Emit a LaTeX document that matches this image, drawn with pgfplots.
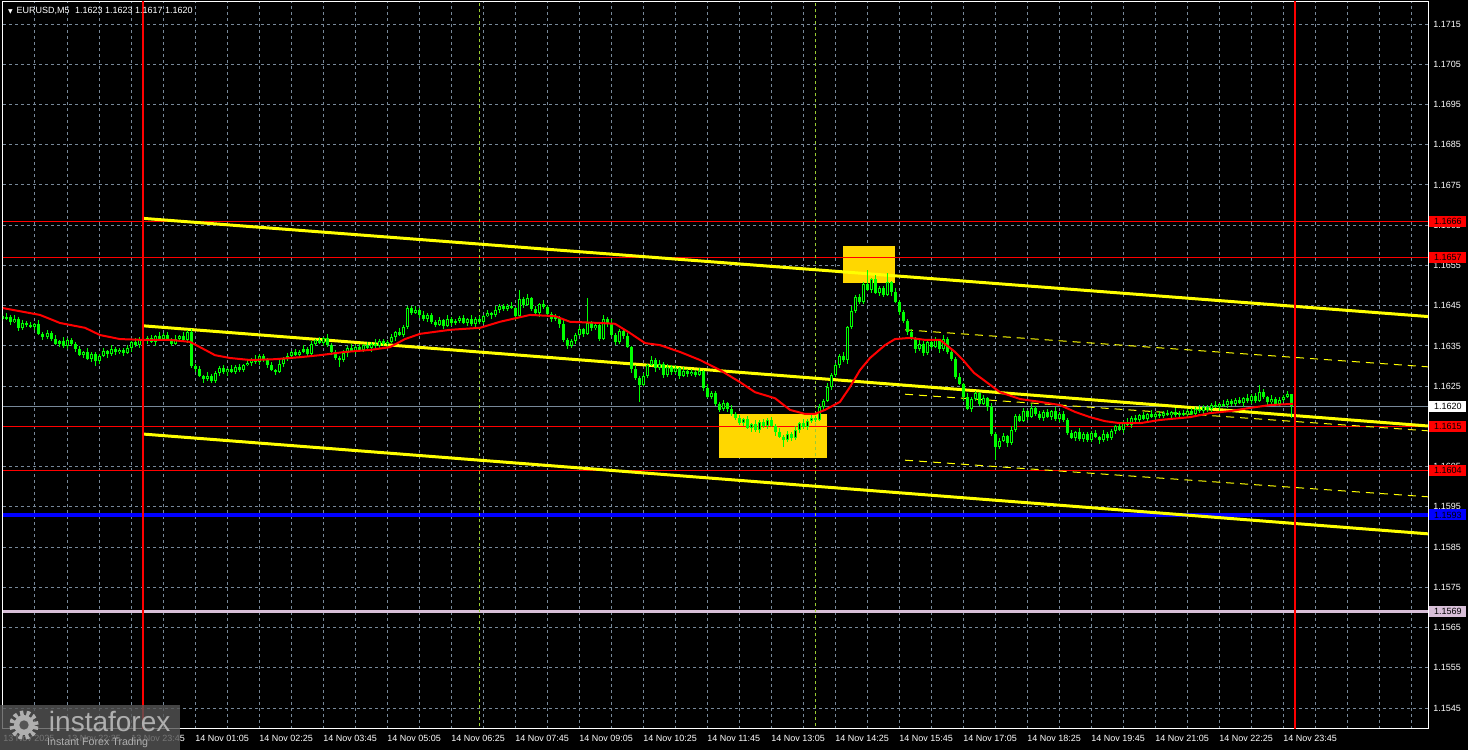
\documentclass[border=0pt]{standalone}
\usepackage{fontspec}
\setmainfont{Liberation Sans}
\newfontfamily\symfont{DejaVu Sans}
\usepackage{pgfplots}
\usepackage{pgfplotstable}
\pgfplotsset{compat=1.18}
\definecolor{mtgrid}{RGB}{119,136,153}
\definecolor{mtgreen}{RGB}{0,255,0}
\definecolor{boxgold}{RGB}{255,215,0}
\definecolor{chanyellow}{RGB}{255,255,0}
\definecolor{thistle}{RGB}{216,191,216}
\definecolor{sepgreen}{RGB}{154,205,50}
\definecolor{wmgray}{RGB}{85,85,85}
\definecolor{wmtext}{RGB}{175,175,175}

% EURUSD M5 candles; i = bar number from 14 Nov 00:00, prices in pips above 1.1500
\pgfplotstableread{
i o h l c
-35 142.5 142.9 141.2 141.8
-34 141.8 143.1 141.5 142.3
-33 142.3 142.6 140.1 141.0
-32 141.0 142.6 140.6 141.6
-31 141.6 142.1 138.8 139.5
-30 139.5 141.4 139.0 140.8
-29 140.8 141.2 139.6 140.2
-28 140.2 141.0 139.5 139.8
-27 139.8 140.8 138.9 140.5
-26 140.5 141.5 137.6 138.0
-25 138.0 138.5 136.5 137.2
-24 137.2 138.9 136.7 138.3
-23 138.3 138.7 136.2 136.8
-22 136.8 137.6 135.3 135.6
-21 135.6 136.5 134.7 136.2
-20 136.2 137.2 134.6 135.0
-19 135.0 136.9 134.3 136.4
-18 136.4 137.0 135.0 135.5
-17 135.5 135.9 133.6 134.2
-16 134.2 135.0 132.5 132.8
-15 132.8 133.8 131.9 133.5
-14 133.5 134.5 131.4 131.8
-13 131.8 133.4 131.1 132.9
-12 132.9 133.5 130.0 131.2
-11 131.2 132.9 130.6 132.5
-10 132.5 134.6 132.2 133.8
-9 133.8 134.1 132.1 133.0
-8 133.0 135.2 132.6 134.2
-7 134.2 134.7 132.7 133.4
-6 133.4 134.6 132.9 134.0
-5 134.0 134.4 132.6 133.2
-4 133.2 135.3 132.9 134.5
-3 134.5 136.3 133.6 136.0
-2 136.0 137.0 134.8 135.2
-1 135.2 137.3 134.5 136.8
0 136.8 137.4 135.7 136.2
1 136.2 137.4 135.6 137.0
2 137.0 137.8 135.7 136.0
3 136.0 137.8 135.1 137.5
4 137.5 138.5 136.4 136.8
5 136.8 138.3 136.1 137.8
6 137.8 138.4 136.1 136.6
7 136.6 137.0 134.9 135.5
8 135.5 137.6 135.2 136.8
9 136.8 137.8 135.9 137.5
10 137.5 138.5 136.0 136.4
11 136.4 139.0 135.7 138.5
12 138.5 139.1 129.5 130.0
13 130.0 130.4 128.6 129.2
14 129.2 130.0 127.2 127.5
15 127.5 127.8 125.9 126.8
16 126.8 128.6 126.4 127.6
17 127.6 128.1 125.7 126.4
18 126.4 128.8 125.9 128.2
19 128.2 129.9 127.6 129.5
20 129.5 130.3 128.1 128.4
21 128.4 129.5 127.5 129.2
22 129.2 130.2 128.2 128.6
23 128.6 130.3 127.9 129.8
24 129.8 130.4 128.5 129.0
25 129.0 130.6 128.4 130.2
26 130.2 131.6 129.9 130.8
27 130.8 132.1 129.9 131.8
28 131.8 132.8 130.6 131.0
29 131.0 132.9 130.3 132.4
30 132.4 133.0 131.1 131.6
31 131.6 132.0 129.6 130.2
32 130.2 131.0 128.7 129.0
33 129.0 129.3 127.7 128.6
34 128.6 131.5 128.2 130.5
35 130.5 132.3 129.8 131.8
36 131.8 133.2 131.3 132.6
37 132.6 133.8 132.0 133.4
38 133.4 134.2 132.5 132.8
39 132.8 133.9 131.9 133.6
40 133.6 135.2 133.2 134.2
41 134.2 134.7 132.3 133.0
42 133.0 136.1 132.5 135.5
43 135.5 136.8 134.9 136.4
44 136.4 137.2 135.5 135.8
45 135.8 137.3 134.9 137.0
46 137.0 138.0 134.8 135.2
47 135.2 135.7 132.7 133.4
48 133.4 134.0 131.5 132.0
49 132.0 132.4 129.8 131.4
50 131.4 134.0 131.1 133.2
51 133.2 134.9 132.3 134.6
52 134.6 135.6 133.4 133.8
53 133.8 135.3 133.1 134.8
54 134.8 135.4 133.5 134.0
55 134.0 135.6 133.4 135.2
56 135.2 136.0 134.1 134.4
57 134.4 135.9 133.5 135.6
58 135.6 136.6 134.6 135.0
59 135.0 136.7 134.3 136.2
60 136.2 136.8 134.9 135.4
61 135.4 136.4 134.8 136.0
62 136.0 138.0 135.7 137.2
63 137.2 138.7 136.3 138.4
64 138.4 139.4 137.4 137.8
65 137.8 140.1 137.1 139.6
66 139.6 145.0 139.1 144.4
67 144.4 144.8 142.6 143.2
68 143.2 144.8 142.9 144.0
69 144.0 144.3 141.9 142.8
70 142.8 143.8 141.2 141.6
71 141.6 143.1 140.9 142.6
72 142.6 143.2 140.5 141.0
73 141.0 141.4 139.6 140.2
74 140.2 142.2 139.9 141.4
75 141.4 141.7 139.1 140.0
76 140.0 142.8 139.6 141.8
77 141.8 142.3 139.9 140.6
78 140.6 141.8 140.1 141.2
79 141.2 142.4 140.6 142.0
80 142.0 142.8 140.5 140.8
81 140.8 141.9 139.9 141.6
82 141.6 142.6 140.0 140.4
83 140.4 142.3 139.7 141.8
84 141.8 142.4 140.5 141.0
85 141.0 142.8 140.4 142.4
86 142.4 144.0 142.1 143.2
87 143.2 143.5 141.7 142.6
88 142.6 145.0 142.2 144.0
89 144.0 145.3 143.3 144.8
90 144.8 145.4 143.7 144.2
91 144.2 145.4 143.6 145.0
92 145.0 145.8 144.1 144.4
93 144.4 144.7 141.5 142.4
94 142.4 148.9 142.0 146.6
95 146.6 147.1 144.5 145.2
96 145.2 148.0 144.9 146.8
97 146.8 147.2 143.6 144.2
98 144.2 145.0 142.8 143.2
99 143.2 145.7 142.3 145.4
100 145.4 146.4 144.2 144.6
101 144.6 145.2 142.3 143.0
102 143.0 143.4 141.0 141.6
103 141.6 143.0 141.3 142.2
104 142.2 142.5 139.5 140.4
105 140.4 141.4 136.0 136.4
106 136.4 136.9 134.3 135.0
107 135.0 136.8 134.5 136.2
108 136.2 138.2 135.6 137.8
109 137.8 140.0 137.5 139.2
110 139.2 139.5 137.1 138.0
111 138.0 146.9 137.6 140.6
112 140.6 141.1 138.7 139.4
113 139.4 140.8 138.9 140.2
114 140.2 140.6 136.2 136.8
115 136.8 142.6 136.5 141.8
116 141.8 142.1 139.7 140.6
117 140.6 141.6 137.2 137.6
118 137.6 138.1 135.3 136.0
119 136.0 139.2 135.5 138.6
120 138.6 139.0 136.8 137.4
121 137.4 138.2 134.5 134.8
122 134.8 135.1 128.3 129.2
123 129.2 130.2 126.6 127.0
124 127.0 127.5 121.1 125.4
125 125.4 128.2 125.1 127.6
126 127.6 130.6 127.0 130.2
127 130.2 132.4 129.9 131.6
128 131.6 131.9 128.5 129.4
129 129.4 131.6 129.0 130.6
130 130.6 131.1 127.1 127.8
131 127.8 130.4 127.3 129.8
132 129.8 130.2 127.8 128.4
133 128.4 130.2 128.1 129.4
134 129.4 129.7 126.7 127.6
135 127.6 129.8 127.2 128.8
136 128.8 129.3 127.3 128.0
137 128.0 129.2 127.5 128.6
138 128.6 129.0 127.2 127.8
139 127.8 129.6 127.5 128.8
140 128.8 129.1 123.7 124.6
141 124.6 125.6 122.0 122.4
142 122.4 123.7 121.7 123.2
143 123.2 123.8 120.1 120.6
144 120.6 121.0 118.6 119.2
145 119.2 121.6 118.9 120.8
146 120.8 121.1 118.5 119.4
147 119.4 120.4 117.6 118.0
148 118.0 118.5 116.5 117.2
149 117.2 117.8 115.3 115.8
150 115.8 117.2 115.2 116.8
151 116.8 117.6 114.3 114.6
152 114.6 115.9 113.7 115.6
153 115.6 116.6 113.6 114.0
154 114.0 116.7 113.3 116.2
155 116.2 116.8 114.5 115.0
156 115.0 117.0 114.4 116.6
157 116.6 117.4 114.9 115.2
158 115.2 115.5 112.7 113.6
159 113.6 114.6 112.0 112.4
160 112.4 112.9 110.0 111.6
161 111.6 113.8 111.1 113.2
162 113.2 113.6 111.4 112.0
163 112.0 115.0 111.7 114.2
164 114.2 116.1 113.3 115.8
165 115.8 116.8 114.4 114.8
166 114.8 116.9 114.1 116.4
167 116.4 117.8 115.9 117.2
168 117.2 117.6 116.0 116.6
169 116.6 120.6 116.3 119.8
170 119.8 121.7 118.9 121.4
171 121.4 125.8 121.0 124.8
172 124.8 128.3 124.1 127.8
173 127.8 130.8 127.3 130.2
174 130.2 133.0 129.6 132.6
175 132.6 133.4 131.1 131.4
176 131.4 139.9 130.5 139.6
177 139.6 144.8 139.2 143.8
178 143.8 147.7 143.1 147.2
179 147.2 147.8 145.5 146.0
180 146.0 150.8 145.4 150.4
181 150.4 153.9 148.7 149.0
182 149.0 151.9 148.1 151.6
183 151.6 152.6 147.8 148.2
184 148.2 149.9 147.5 149.4
185 149.4 150.0 147.1 147.6
186 147.6 153.2 147.3 150.8
187 150.8 151.1 147.5 148.4
188 148.4 149.4 145.6 146.0
189 146.0 146.5 142.7 143.4
190 143.4 144.0 140.7 141.2
191 141.2 141.6 137.8 138.4
192 138.4 139.2 136.5 136.8
193 136.8 137.1 133.3 134.2
194 134.2 136.6 133.8 135.6
195 135.6 136.1 132.5 133.2
196 133.2 136.6 132.7 136.0
197 136.0 136.4 134.2 134.8
198 134.8 137.2 134.5 136.4
199 136.4 136.7 133.3 134.2
200 134.2 137.8 133.8 136.8
201 136.8 137.3 132.9 133.6
202 133.6 134.2 131.3 131.8
203 131.8 132.2 126.8 127.4
204 127.4 128.2 125.3 125.6
205 125.6 125.9 121.3 122.2
206 122.2 123.2 119.0 119.4
207 119.4 122.3 118.7 121.8
208 121.8 123.8 121.3 123.2
209 123.2 123.6 120.0 120.6
210 120.6 122.8 120.3 122.0
211 122.0 122.3 118.9 119.8
212 119.8 120.8 112.6 113.0
213 113.0 113.5 106.6 109.8
214 109.8 112.0 109.3 111.4
215 111.4 113.4 111.1 112.6
216 112.6 112.9 109.9 110.8
217 110.8 115.2 110.4 114.2
218 114.2 118.1 113.5 117.6
219 117.6 118.2 116.1 116.4
220 116.4 119.6 116.1 118.8
221 118.8 119.1 116.5 117.4
222 117.4 120.6 117.0 119.6
223 119.6 120.1 117.5 118.2
224 118.2 118.8 116.5 117.0
225 117.0 119.0 116.4 118.6
226 118.6 119.4 117.1 117.4
227 117.4 119.1 116.5 118.8
228 118.8 119.8 116.4 116.8
229 116.8 118.7 116.1 118.2
230 118.2 118.8 116.1 116.6
231 116.6 117.0 112.8 113.4
232 113.4 114.2 111.9 112.2
233 112.2 113.9 111.3 113.6
234 113.6 114.6 111.4 111.8
235 111.8 113.5 111.1 113.0
236 113.0 113.6 111.1 111.6
237 111.6 113.8 111.0 113.4
238 113.4 114.2 112.1 112.4
239 112.4 112.7 110.7 111.6
240 111.6 114.2 111.2 113.2
241 113.2 113.7 111.3 112.0
242 112.0 114.4 111.5 113.8
243 113.8 115.4 113.2 115.0
244 115.0 115.8 113.9 114.2
245 114.2 116.3 113.3 116.0
246 116.0 117.0 115.0 115.4
247 115.4 117.7 114.7 117.2
248 117.2 117.8 116.1 116.6
249 116.6 118.2 116.0 117.8
250 117.8 118.6 116.5 116.8
251 116.8 118.3 115.9 118.0
252 118.0 119.0 117.0 117.4
253 117.4 118.7 116.7 118.2
254 118.2 118.8 117.1 117.6
255 117.6 118.8 117.0 118.4
256 118.4 119.2 117.5 117.8
257 117.8 118.9 116.9 118.6
258 118.6 119.6 117.4 117.8
259 117.8 118.9 117.1 118.4
260 118.4 119.0 117.5 118.0
261 118.0 119.2 117.4 118.8
262 118.8 119.6 117.9 118.2
263 118.2 119.7 117.3 119.4
264 119.4 120.4 118.4 118.8
265 118.8 120.3 118.1 119.8
266 119.8 120.4 118.7 119.2
267 119.2 120.8 118.6 120.4
268 120.4 121.2 119.5 119.8
269 119.8 120.9 118.9 120.6
270 120.6 121.6 119.8 120.2
271 120.2 121.7 119.5 121.2
272 121.2 121.8 120.1 120.6
273 120.6 122.0 120.0 121.6
274 121.6 122.4 120.5 120.8
275 120.8 122.3 119.9 122.0
276 122.0 123.0 120.8 121.2
277 121.2 123.1 120.5 122.6
278 122.6 123.2 120.9 121.4
279 121.4 125.3 121.0 123.6
280 123.6 124.2 121.8 122.2
281 122.2 122.5 120.1 121.0
282 121.0 122.8 120.6 121.8
283 121.8 122.3 120.1 120.6
284 120.6 122.2 120.1 121.6
285 121.6 122.8 121.0 122.4
286 122.4 123.8 122.1 123.0
287 123.0 123.0 117.0 120.0
}\candles

% red moving average
\pgfplotstableread{
i ma
-35 144.4
-25.75 142.7
-20.75 140.7
-14.5 139.5
-10.75 137.7
-5.75 136.7
0 136.5
6.75 136.5
11.75 136.0
14.25 134.7
18 132.7
21.75 132.0
26.75 131.5
33 131.7
39.25 132.2
44.25 132.7
50.5 133.5
56.75 134.0
61.75 134.7
65.5 136.7
69.25 138.0
76.75 139.0
84.25 139.5
89.25 141.0
96.75 142.7
103 142.4
106.75 141.0
114.25 140.7
118 140.5
121.75 138.2
125.5 135.7
129.25 135.2
134.25 133.5
139.25 131.5
144.25 129.0
149.25 126.0
153 123.5
158 122.0
161.75 119.1
165.5 118.1
168 118.1
170.5 119.1
174.25 121.1
176.75 124.8
179.25 129.0
181.75 132.0
185.5 135.2
188 136.7
191.75 137.0
195.5 136.5
199.25 136.5
203 133.5
205 131.5
207.75 128.3
214.25 123.5
219.25 121.8
224.25 121.1
229.25 120.3
233 118.6
236.75 117.3
240.5 116.3
244.25 115.8
249.25 115.8
254.25 116.6
261.75 117.3
266.75 118.3
271.75 118.8
276.75 119.6
281.75 120.3
287.5 120.6
}\maline

\begin{document}
\begin{tikzpicture}
\fill[black] (-2.25pt,-15.75pt) rectangle (1098.75pt,546.75pt);
\begin{axis}[
  at={(0,0)}, anchor=south west,
  scale only axis, width=1068.75pt, height=545.25pt,
  xmin=-35, xmax=321.25, ymin=39.8, ymax=220.47,
  axis line style={white, line width=0.75pt},
  tick style={draw=none},
  xtick={-35,-27,...,317},
  xticklabels={13 Nov 2025,,13 Nov 22:25,,13 Nov 23:45,,14 Nov 01:05,,14 Nov 02:25,,14 Nov 03:45,,14 Nov 05:05,,14 Nov 06:25,,14 Nov 07:45,,14 Nov 09:05,,14 Nov 10:25,,14 Nov 11:45,,14 Nov 13:05,,14 Nov 14:25,,14 Nov 15:45,,14 Nov 17:05,,14 Nov 18:25,,14 Nov 19:45,,14 Nov 21:05,,14 Nov 22:25,,14 Nov 23:45,,,,},
  ytick={45,55,...,215},
  yticklabels={1.1545,1.1555,1.1565,1.1575,1.1585,1.1595,1.1605,1.1615,1.1625,1.1635,1.1645,1.1655,1.1665,1.1675,1.1685,1.1695,1.1705,1.1715},
  yticklabel pos=right,
  grid=major,
  grid style={mtgrid, line width=0.75pt, dash pattern=on 2.25pt off 2.25pt},
  ticklabel style={font=\fontsize{6.75pt}{8pt}\selectfont, text=white, inner sep=0pt},
  xticklabel style={anchor=north west, yshift=-4.2pt},
  yticklabel style={anchor=west, xshift=3.75pt},
]
% signal boxes
\addplot[fill=boxgold, draw=none] coordinates {(144,107.1) (171,107.1) (171,118.1) (144,118.1)} -- cycle;
\addplot[fill=boxgold, draw=none] coordinates {(175,150.6) (188,150.6) (188,159.8) (175,159.8)} -- cycle;
% levels
\addplot[red, line width=0.75pt] coordinates {(-35,166) (321.25,166)};
\addplot[red, line width=0.75pt] coordinates {(-35,157) (321.25,157)};
\addplot[mtgrid, line width=0.75pt] coordinates {(-35,120) (321.25,120)};
\addplot[red, line width=0.75pt] coordinates {(-35,115) (321.25,115)};
\addplot[red, line width=0.75pt] coordinates {(-35,104) (321.25,104)};
\addplot[blue, line width=2.6pt] coordinates {(-35,93) (321.25,93)};
\addplot[thistle, line width=2.25pt] coordinates {(-35,69) (321.25,69)};
% period separators
\addplot[sepgreen, line width=0.75pt, dash pattern=on 2.25pt off 2.25pt] coordinates {(84,30) (84,230)};
\addplot[sepgreen, line width=0.75pt, dash pattern=on 2.25pt off 2.25pt] coordinates {(168,30) (168,230)};
% descending channel
\addplot[chanyellow, line width=2.25pt] coordinates {(0,166.7) (321.25,142.3)};
\addplot[chanyellow, line width=2.25pt] coordinates {(0,140.0) (321.25,115.1)};
\addplot[chanyellow, line width=2.25pt] coordinates {(0,113.1) (321.25,88.3)};
\addplot[chanyellow, line width=0.75pt, dash pattern=on 6pt off 4.5pt] coordinates {(190.5,139.0) (321.25,129.8)};
\addplot[chanyellow, line width=0.75pt, dash pattern=on 6pt off 4.5pt] coordinates {(190.5,123.0) (321.25,113.9)};
\addplot[chanyellow, line width=0.75pt, dash pattern=on 6pt off 4.5pt] coordinates {(190.5,106.6) (321.25,97.5)};
% candles: wicks, bodies, hollow centres of rising bars
\addplot[draw=none, error bars/.cd, y dir=both, y explicit, error mark=none,
  error bar style={draw=mtgreen, line width=0.75pt}]
  table[x=i, y expr={(\thisrow{h}+\thisrow{l})/2}, y error expr={(\thisrow{h}-\thisrow{l})/2}] {\candles};
\addplot[draw=none, error bars/.cd, y dir=both, y explicit, error mark=none,
  error bar style={draw=mtgreen, line width=2.25pt}]
  table[x=i, y expr={(\thisrow{o}+\thisrow{c})/2}, y error expr={max(abs(\thisrow{o}-\thisrow{c})/2,0.13)}] {\candles};
\addplot[draw=none, unbounded coords=discard,
  restrict expr to domain={\thisrow{c}-\thisrow{o}}{0.6:1000},
  error bars/.cd, y dir=both, y explicit, error mark=none,
  error bar style={draw=black, line width=0.75pt}]
  table[x=i, y expr={(\thisrow{o}+\thisrow{c})/2}, y error expr={(\thisrow{c}-\thisrow{o})/2-0.25}] {\candles};
% moving average
\addplot[red, line width=1.5pt] table[x=i, y=ma] {\maline};
% day separators
\addplot[red, line width=1.5pt] coordinates {(0,30) (0,230)};
\addplot[red, line width=1.5pt] coordinates {(288,30) (288,230)};
\coordinate (r1666) at (axis cs:321.25,166);
\coordinate (r1657) at (axis cs:321.25,157);
\coordinate (r1620) at (axis cs:321.25,120);
\coordinate (r1615) at (axis cs:321.25,115);
\coordinate (r1604) at (axis cs:321.25,104);
\coordinate (r1593) at (axis cs:321.25,93);
\coordinate (r1569) at (axis cs:321.25,69);
\end{axis}
\tikzset{plab/.style={anchor=west, inner sep=0pt, minimum width=27.75pt, minimum height=8.25pt, text=black, font=\fontsize{6.75pt}{8pt}\selectfont}}
\node[plab, fill=red] at ([xshift=0.75pt]r1666) {1.1666};
\node[plab, fill=red] at ([xshift=0.75pt]r1657) {1.1657};
\node[plab, fill=white] at ([xshift=0.75pt]r1620) {1.1620};
\node[plab, fill=red] at ([xshift=0.75pt]r1615) {1.1615};
\node[plab, fill=red] at ([xshift=0.75pt]r1604) {1.1604};
\node[plab, fill=blue] at ([xshift=0.75pt]r1593) {1.1593};
\node[plab, fill=thistle] at ([xshift=0.75pt]r1569) {1.1569};
% header
\node[anchor=west, inner sep=0pt, text=white, font=\fontsize{6.75pt}{8pt}\selectfont] at (3.6pt,538.5pt)
  {{\symfont\fontsize{4.5pt}{5pt}\selectfont ▼}\hspace{3pt}EURUSD,M5\hspace{4pt}1.1623 1.1623 1.1617 1.1620};
% watermark
\fill[wmgray, opacity=0.8] (-2.25pt,-15.75pt) rectangle (132.75pt,18pt);
\draw[wmtext, line width=4pt, dash pattern=on 2.6pt off 2.2pt] (15.75pt,3pt) circle (9pt);
\fill[wmtext] (15.75pt,3pt) circle (7.5pt);
\fill[wmgray] (15.75pt,3pt) circle (3.5pt);
\node[text=wmtext, inner sep=0pt, font=\fontsize{21pt}{22pt}\selectfont] at (80pt,6pt) {instaforex};
\node[text=wmtext, inner sep=0pt, font=\fontsize{8pt}{9pt}\selectfont] at (71pt,-10pt) {Instant Forex Trading};
\pgfresetboundingbox
\path[use as bounding box] (-2.25pt,-15.75pt) rectangle (1098.75pt,546.75pt);
\end{tikzpicture}
\end{document}
